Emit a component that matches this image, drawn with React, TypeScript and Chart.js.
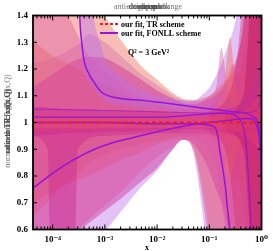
import React, { useEffect, useRef } from 'react';
import { Chart, registerables } from 'chart.js';
Chart.register(...registerables);

// ---------- data ----------
const xMin = 4.2e-5;
const xMax = 1;
const xTicks = [1e-4, 1e-3, 1e-2, 1e-1, 1];
const xTickLabels = ['10⁻⁴', '10⁻³', '10⁻²', '10⁻¹', '10⁰'];
const yTicks = [0.6, 0.7, 0.8, 0.9, 1.0, 1.1, 1.2, 1.3, 1.4];

const xGrid = [4e-5, 1e-4, 2e-4, 3.5e-4, 5e-4, 1e-3, 2e-3, 5e-3, 1e-2, 2e-2, 3e-2, 4e-2, 5e-2, 7e-2, 0.1, 0.13, 0.17, 0.22, 0.3, 0.4, 0.5, 0.6, 0.7, 0.85, 1];

// FONLL wide band (lavender)
const fonllWideUp = [1.22, 1.24, 1.27, 1.3, 1.33, 1.3, 1.25, 1.18, 1.14, 1.1, 1.085, 1.08, 1.08, 1.1, 1.13, 1.17, 1.22, 1.28, 1.36, 1.48, 1.6, 1.8, 2, 2, 2];
const fonllWideLo = [0.2, 0.3, 0.38, 0.46, 0.5, 0.59, 0.665, 0.76, 0.82, 0.9, 0.935, 0.93, 0.88, 0.7, 0.45, 0.35, 0.35, 0.35, 0.35, 0.35, 0.35, 0.35, 0.35, 0.35, 0.35];
// TR wide band (salmon)
const trWideUp = [2.2, 2.0, 1.8, 1.62, 1.52, 1.4, 1.31, 1.21, 1.16, 1.11, 1.09, 1.085, 1.085, 1.09, 1.1, 1.12, 1.14, 1.16, 1.2, 1.3, 1.45, 1.7, 2, 2, 2];
const trWideLo = [0.7, 0.74, 0.77, 0.79, 0.8, 0.83, 0.86, 0.89, 0.92, 0.935, 0.94, 0.93, 0.9, 0.78, 0.6, 0.5, 0.45, 0.4, 0.4, 0.4, 0.4, 0.4, 0.4, 0.4, 0.4];
// diagonal TR band (salmon)
const trDiagUp = [1.31, 1.25, 1.22, 1.19, 1.17, 1.14, 1.11, 1.08, 1.065, 1.055, 1.05, 1.05, 1.05, 1.05, 1.055, 1.06, 1.07, 1.09, 1.12, 1.2, 1.3, 1.45, 1.6, 1.8, 2];
const trDiagLo = [0.65, 0.72, 0.78, 0.82, 0.85, 0.88, 0.9, 0.92, 0.93, 0.945, 0.95, 0.95, 0.95, 0.95, 0.945, 0.94, 0.93, 0.9, 0.85, 0.75, 0.65, 0.55, 0.45, 0.4, 0.4];
// dome band (magenta)
const domeUp = [1.13, 1.18, 1.22, 1.24, 1.245, 1.24, 1.21, 1.16, 1.12, 1.09, 1.075, 1.07, 1.07, 1.075, 1.09, 1.1, 1.12, 1.15, 1.2, 1.3, 1.45, 1.6, 1.7, 1.8, 1.9];
const domeLo = [0.4, 0.5, 0.56, 0.6, 0.625, 0.67, 0.715, 0.78, 0.83, 0.9, 0.935, 0.935, 0.92, 0.88, 0.82, 0.76, 0.7, 0.62, 0.55, 0.5, 0.45, 0.4, 0.4, 0.4, 0.4];
// pink band
const pinkUp = [1.6, 1.5, 1.4, 1.3, 1.25, 1.19, 1.14, 1.1, 1.08, 1.06, 1.055, 1.05, 1.05, 1.055, 1.06, 1.08, 1.12, 1.16, 1.22, 1.3, 1.4, 1.5, 1.6, 1.7, 1.8];
const pinkLo = [0.4, 0.5, 0.56, 0.61, 0.64, 0.69, 0.74, 0.82, 0.87, 0.91, 0.935, 0.94, 0.94, 0.93, 0.9, 0.85, 0.72, 0.55, 0.45, 0.4, 0.4, 0.4, 0.4, 0.4, 0.4];
// central narrow bands
const coreUp = [1.06, 1.055, 1.05, 1.05, 1.05, 1.045, 1.045, 1.04, 1.04, 1.035, 1.035, 1.035, 1.035, 1.035, 1.04, 1.04, 1.045, 1.05, 1.06, 1.07, 1.08, 1.1, 1.12, 1.15, 1.2];
const coreLo = [0.95, 0.955, 0.96, 0.96, 0.96, 0.965, 0.965, 0.97, 0.97, 0.975, 0.975, 0.975, 0.975, 0.975, 0.97, 0.97, 0.965, 0.96, 0.95, 0.94, 0.93, 0.91, 0.88, 0.85, 0.8];
const coreTrUp = [1.03, 1.028, 1.026, 1.025, 1.025, 1.024, 1.023, 1.022, 1.021, 1.02, 1.02, 1.02, 1.02, 1.02, 1.022, 1.024, 1.027, 1.03, 1.035, 1.04, 1.05, 1.06, 1.08, 1.1, 1.15];
const coreTrLo = [0.97, 0.972, 0.974, 0.975, 0.975, 0.976, 0.977, 0.978, 0.979, 0.98, 0.98, 0.98, 0.98, 0.98, 0.978, 0.976, 0.973, 0.97, 0.965, 0.96, 0.95, 0.94, 0.92, 0.9, 0.85];

// vertical stripe band at small x
const stripeX = [4e-5, 8e-5, 8.8e-5, 1e-4, 2e-4, 2.5e-4, 2.75e-4, 3e-4, 1e-3, 1e-2, 0.1, 1];
const stripeUp = [0.98, 0.98, 0.98, 0.98, 0.98, 0.98, 0.98, 0.98, 0.98, 0.98, 0.98, 0.98];
const stripeLo = [0.95, 0.9, 0.6, 0.4, 0.4, 0.4, 0.6, 0.9, 0.95, 0.96, 0.96, 0.96];

// band around the diverging FONLL curve
const poleX = [4e-5, 2.5e-4, 3.2e-4, 3.4e-4, 3.7e-4, 4.5e-4, 6e-4, 8e-4, 1e-3, 3e-3, 1e-2, 0.1, 0.3, 0.6, 1];
const poleUp = [4, 4, 4, 3, 2.2, 1.6, 1.4, 1.3, 1.24, 1.15, 1.1, 1.08, 1.08, 1.12, 1.3];
const poleLo = [3, 3, 1.7, 1.35, 1.25, 1.17, 1.13, 1.1, 1.08, 1.06, 1.05, 1.03, 1.02, 0.97, 0.9];

// large-x bands
const rightAX = [0.1, 0.2, 0.28, 0.33, 0.4, 0.45, 0.6, 1];
const rightAUp = [1.04, 1.08, 1.15, 1.22, 1.38, 1.5, 2, 2];
const rightALo = [0.96, 0.9, 0.72, 0.58, 0.45, 0.4, 0.35, 0.35];
const rightBX = [0.2, 0.45, 0.55, 0.65, 0.8, 1];
const rightBUp = [1.03, 1.1, 1.3, 1.6, 2, 2];
const rightBLo = [0.97, 0.9, 0.7, 0.5, 0.35, 0.35];
const peakTrX = [0.12, 0.17, 0.2, 0.23, 0.25, 0.27, 0.3, 0.36, 0.45];
const peakTrUp = [1.05, 1.1, 1.17, 1.28, 1.32, 1.28, 1.18, 1.1, 1.05];
const peakTrLo = [0.95, 0.9, 0.85, 0.8, 0.78, 0.8, 0.85, 0.9, 0.95];
const peakMagX = [0.1, 0.14, 0.17, 0.2, 0.25, 0.35];
const peakMagUp = [1.05, 1.15, 1.28, 1.2, 1.08, 1.04];
const peakMagLo = [0.95, 0.9, 0.85, 0.85, 0.9, 0.96];
const dipX = [0.03, 0.05, 0.07, 0.1, 0.15, 0.2, 0.25, 0.28, 0.32, 0.4];
const dipUp = [1.05, 1.06, 1.08, 1.1, 1.12, 1.15, 1.2, 1.22, 1.2, 1.15];
const dipLo = [0.94, 0.9, 0.75, 0.55, 0.45, 0.45, 0.5, 0.6, 0.75, 0.9];

// central curves
const trLineX = [4.2e-5, 1];
const trLineY = [1, 1];
const poleLineX = [2.5e-4, 3e-4, 3.3e-4, 3.6e-4, 4e-4, 5e-4, 6e-4, 8e-4, 1e-3, 2e-3, 5e-3, 1.8e-2, 6.6e-2, 0.16, 0.3, 0.5, 0.7, 0.85, 0.95, 1];
const poleLineY = [3, 1.75, 1.4, 1.3, 1.23, 1.18, 1.155, 1.12, 1.105, 1.09, 1.083, 1.07, 1.055, 1.047, 1.04, 1.035, 1.02, 1.0, 0.93, 0.85];
const riseLineX = [4.2e-5, 1e-4, 2.5e-4, 6e-4, 1.45e-3, 3.4e-3, 8.4e-3, 3e-2, 0.1, 0.3, 0.5, 0.7, 0.8, 0.9, 0.95, 1];
const riseLineY = [0.755, 0.81, 0.86, 0.898, 0.925, 0.943, 0.962, 0.985, 1.0, 1.01, 1.015, 1.01, 0.99, 0.95, 0.9, 0.8];
const dropLineX = [4.2e-5, 1e-3, 1e-2, 0.05, 0.1, 0.13, 0.145, 0.158, 0.18, 0.2, 0.225, 0.245, 0.27];
const dropLineY = [1.0, 1.0, 0.995, 0.995, 0.99, 0.98, 0.95, 0.9, 0.83, 0.77, 0.67, 0.6, 0.45];
const drop2LineX = [4.2e-5, 1e-2, 0.2, 0.35, 0.45, 0.52, 0.56, 0.6, 0.63, 0.66];
const drop2LineY = [1.02, 1.02, 1.035, 1.02, 0.98, 0.9, 0.8, 0.7, 0.6, 0.5];
const flatLineX = [4.2e-5, 1e-3, 1e-2, 0.1, 0.3, 0.7, 0.9, 1];
const flatLineY = [1.05, 1.045, 1.04, 1.035, 1.035, 1.04, 1.06, 1.1];

const SAL = 'rgba(240,110,90,0.45)';
const LAV = 'rgba(185,110,235,0.42)';
const MAG = 'rgba(205,40,145,0.42)';
const PNK = 'rgba(220,85,165,0.4)';
const CRM = 'rgba(210,40,110,0.4)';
const CRM2 = 'rgba(190,20,95,0.45)';
const PURPLE = 'rgb(150,20,215)';
const RED = 'rgb(235,30,30)';

const pts = (xs: number[], ys: number[]) => xs.map((x, i) => ({ x, y: ys[i] }));

function bandSets(xs: number[], up: number[], lo: number[], color: string) {
  const base = {
    pointRadius: 0,
    borderWidth: 0,
    cubicInterpolationMode: 'monotone' as const,
    order: 2,
  };
  return [
    { ...base, data: pts(xs, up), fill: '+1', backgroundColor: color, borderColor: 'transparent' },
    { ...base, data: pts(xs, lo), fill: false, borderColor: 'transparent' },
  ];
}

function lineSet(xs: number[], ys: number[], color: string, dash: number[] = [], width = 1.5) {
  return {
    data: pts(xs, ys),
    borderColor: color,
    borderWidth: width,
    borderDash: dash,
    pointRadius: 0,
    fill: false,
    cubicInterpolationMode: 'monotone' as const,
    order: 0,
  };
}

const SERIF = '"Liberation Serif", "DejaVu Serif", serif';

const decor = {
  id: 'decor',
  afterDraw(chart: any) {
    const { ctx, chartArea: a, scales } = chart;
    const xs = scales.x;
    const ys = scales.y;
    ctx.save();
    const seg = (x1: number, y1: number, x2: number, y2: number) => {
      ctx.beginPath();
      ctx.moveTo(x1, y1);
      ctx.lineTo(x2, y2);
      ctx.stroke();
    };
    ctx.strokeStyle = '#000';
    ctx.lineWidth = 1;
    for (const v of yTicks) {
      const py = ys.getPixelForValue(v);
      seg(a.left, py, a.left + 4, py);
      seg(a.right, py, a.right - 4, py);
    }
    for (let e = -5; e <= 0; e++) {
      for (let m = 1; m <= 9; m++) {
        const v = m * Math.pow(10, e);
        if (v < xMin || v > xMax * 1.0001) continue;
        const px = xs.getPixelForValue(v);
        const len = m === 1 ? 5 : 3;
        seg(px, a.bottom, px, a.bottom - len);
        seg(px, a.top, px, a.top + len);
      }
    }
    ctx.lineWidth = 1.8;
    ctx.strokeRect(a.left, a.top, a.right - a.left, a.bottom - a.top);

    // legend
    ctx.lineWidth = 2;
    ctx.strokeStyle = RED;
    ctx.setLineDash([3, 2]);
    seg(100, 24, 118, 24);
    ctx.setLineDash([]);
    ctx.strokeStyle = PURPLE;
    seg(100, 33, 118, 33);
    ctx.fillStyle = '#000';
    ctx.font = `bold 8px ${SERIF}`;
    ctx.textAlign = 'left';
    ctx.textBaseline = 'middle';
    ctx.fillText('our fit, TR scheme', 121, 24.5);
    ctx.fillText('our fit, FONLL scheme', 121, 33.5);
    ctx.fillText('Q² = 3 GeV²', 128, 53);

    // title (several overlapping titles)
    ctx.fillStyle = 'rgba(70,70,70,0.75)';
    ctx.font = `8px ${SERIF}`;
    ctx.textAlign = 'center';
    for (const t of ['anti-down/up/strange', 'anti-up quark', 'down quark', 'gluon', 'charm', 'up quark']) {
      ctx.fillText(t, 148, 7);
    }
    // x axis title
    ctx.fillStyle = '#000';
    ctx.font = `bold 8px ${SERIF}`;
    ctx.fillText('x', 147, 247.5);

    // y label (overlapping)
    ctx.translate(8, 121);
    ctx.rotate(-Math.PI / 2);
    ctx.fillStyle = 'rgba(70,70,70,0.75)';
    ctx.font = `8px ${SERIF}`;
    for (const t of ['normalized to TR fit: xf(x,Q)', 'ratio to TR: xg(x,Q)', 'ratio to TR: xu(x,Q)', 'ratio to TR: xs(x,Q)', 'ratio: xc(x,Q)']) {
      ctx.fillText(t, 0, 0);
    }
    ctx.restore();
  },
};

export default function App() {
  const ref = useRef<HTMLCanvasElement | null>(null);
  useEffect(() => {
    if (!ref.current) return;
    const datasets: any[] = [
      lineSet(trLineX, trLineY, RED, [4, 3], 2),
      lineSet(poleLineX, poleLineY, PURPLE),
      lineSet(riseLineX, riseLineY, PURPLE),
      lineSet(dropLineX, dropLineY, PURPLE),
      lineSet(drop2LineX, drop2LineY, PURPLE, [], 1.2),
      lineSet(flatLineX, flatLineY, 'rgba(150,20,215,0.7)', [], 1),
      ...bandSets(xGrid, coreTrUp, coreTrLo, 'rgba(235,70,90,0.35)'),
      ...bandSets(xGrid, coreUp, coreLo, MAG),
      ...bandSets(rightBX, rightBUp, rightBLo, CRM2),
      ...bandSets(rightAX, rightAUp, rightALo, CRM),
      ...bandSets(peakMagX, peakMagUp, peakMagLo, PNK),
      ...bandSets(peakTrX, peakTrUp, peakTrLo, SAL),
      ...bandSets(dipX, dipUp, dipLo, PNK),
      ...bandSets(stripeX, stripeUp, stripeLo, MAG),
      ...bandSets(poleX, poleUp, poleLo, LAV),
      ...bandSets(xGrid, pinkUp, pinkLo, PNK),
      ...bandSets(xGrid, domeUp, domeLo, MAG),
      ...bandSets(xGrid, trDiagUp, trDiagLo, SAL),
      ...bandSets(xGrid, trWideUp, trWideLo, SAL),
      ...bandSets(xGrid, fonllWideUp, fonllWideLo, LAV),
    ];
    const chart = new Chart(ref.current, {
      type: 'line',
      data: { datasets },
      options: {
        animation: false,
        responsive: false,
        maintainAspectRatio: false,
        layout: { padding: { left: 0, right: 10, top: 15.5, bottom: 0 } },
        plugins: {
          legend: { display: false },
          tooltip: { enabled: false },
          title: { display: false },
        },
        scales: {
          x: {
            type: 'logarithmic',
            min: xMin,
            max: xMax,
            grid: { display: false, drawTicks: false },
            border: { display: false },
            afterBuildTicks: (s: any) => {
              s.ticks = xTicks.map((v) => ({ value: v }));
            },
            afterFit: (s: any) => {
              s.height = 21.5;
            },
            ticks: {
              autoSkip: false,
              maxRotation: 0,
              padding: 5,
              color: '#000',
              font: { family: SERIF, weight: 'bold', size: 9 },
              callback: (v: any) => {
                const i = xTicks.findIndex((t) => Math.abs(t - Number(v)) / t < 1e-6);
                return i >= 0 ? xTickLabels[i] : '';
              },
            },
          },
          y: {
            type: 'linear',
            min: 0.6,
            max: 1.4,
            grid: { display: false, drawTicks: false },
            border: { display: false },
            afterBuildTicks: (s: any) => {
              s.ticks = yTicks.map((v) => ({ value: v }));
            },
            afterFit: (s: any) => {
              s.width = 33;
            },
            ticks: {
              padding: 5,
              color: '#000',
              font: { family: SERIF, weight: 'bold', size: 9 },
              callback: (v: any) => String(Math.round(Number(v) * 10) / 10),
            },
          },
        },
      },
      plugins: [decor],
    });
    return () => chart.destroy();
  }, []);
  return (
    <div style={{ position: 'fixed', left: 0, top: 0, width: 273, height: 251, background: '#fff' }}>
      <canvas ref={ref} width={273} height={251} style={{ width: 273, height: 251, display: 'block' }} />
    </div>
  );
}
